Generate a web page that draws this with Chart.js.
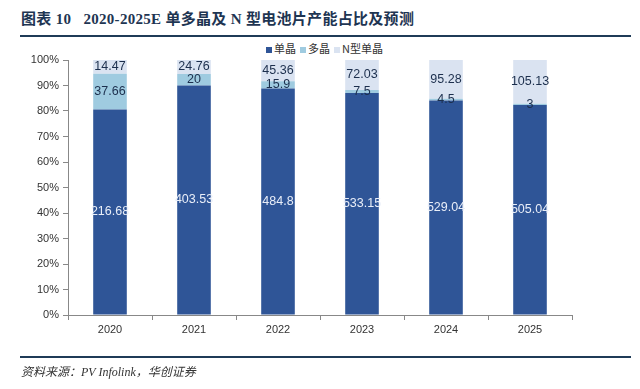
<!DOCTYPE html>
<html>
<head>
<meta charset="utf-8">
<script src="https://cdn.jsdelivr.net/npm/chart.js@4"></script>
<style>
  body { margin: 0; width: 640px; height: 389px; background: #fff; position: relative; overflow: hidden; }
  #title { position: absolute; left: 21px; top: 7px; font: bold 15px "Liberation Serif", "Noto Sans CJK SC", serif; color: #1e3552; letter-spacing: 0.3px; white-space: nowrap; }
  .rule { position: absolute; left: 20px; width: 611px; height: 2px; background: #1f3b57; }
  #legend { position: absolute; top: 40px; left: 262px; font: 11px "Noto Sans CJK SC", sans-serif; color: #333; white-space: nowrap; }
  #legend span.box { display: inline-block; width: 6px; height: 6px; margin: 0 2px 1px 4px; vertical-align: middle; }
  #source { position: absolute; left: 21px; top: 362px; font: italic 12px "Liberation Serif", "Noto Sans CJK SC", serif; color: #333; white-space: nowrap; }
  canvas { position: absolute; left: 0; top: 0; }
</style>
</head>
<body>
<div id="title">图表 10&nbsp;&nbsp;&nbsp;2020-2025E 单多晶及 N 型电池片产能占比及预测</div>
<div class="rule" style="top:35px"></div>
<div id="legend"></div>
<canvas id="chart" width="640" height="389"></canvas>
<div class="rule" style="top:356px"></div>
<div id="source">资料来源：PV Infolink，华创证券</div>
<script>
// capacity values (GW)
const years = ["2020", "2021", "2022", "2023", "2024", "2025"];
const mono = [216.68, 403.53, 484.8, 533.15, 529.04, 505.04];
const poly = [37.66, 20, 15.9, 7.5, 4.5, 3];
const nType = [14.47, 24.76, 45.36, 72.03, 95.28, 105.13];
const seriesNames = ["单晶", "多晶", "N型单晶"];
const seriesColors = ["#2f5597", "#9fcbe0", "#dae3f1"];
const labelColors = ["#e9eef8", "#1c2f4d", "#1c2f4d"];
const yTicks = [0, 10, 20, 30, 40, 50, 60, 70, 80, 90, 100];

const rawSeries = [mono, poly, nType];
const totals = years.map((y, i) => mono[i] + poly[i] + nType[i]);

// legend in html
const legend = document.getElementById("legend");
seriesNames.forEach((name, i) => {
    legend.innerHTML += `<span class="box" style="background:${seriesColors[i]}"></span>${name}`;
});

// labels in the middle of each segment
const segmentLabels = {
    id: "segmentLabels",
    afterDatasetsDraw(chart) {
        const ctx = chart.ctx;
        ctx.save();
        ctx.font = "12.5px 'Liberation Sans', Arial, sans-serif";
        ctx.textAlign = "center";
        ctx.textBaseline = "middle";
        chart.data.datasets.forEach((ds, di) => {
            const meta = chart.getDatasetMeta(di);
            meta.data.forEach((bar, i) => {
                const mid = (bar.y + bar.base) / 2;
                ctx.fillStyle = labelColors[di];
                ctx.fillText(String(rawSeries[di][i]), bar.x, mid);
            });
        });
        ctx.restore();
    }
};

new Chart(document.getElementById("chart"), {
    type: "bar",
    data: {
        labels: years,
        datasets: rawSeries.map((vals, di) => ({
            label: seriesNames[di],
            data: vals.map((v, i) => v / totals[i] * 100),
            backgroundColor: seriesColors[di],
            borderWidth: 0,
            barPercentage: 0.4,
            categoryPercentage: 1
        }))
    },
    options: {
        responsive: false,
        animation: false,
        layout: { padding: { top: 60, left: 24, right: 68, bottom: 0 } },
        plugins: { legend: { display: false }, tooltip: { enabled: false } },
        scales: {
            x: {
                stacked: true,
                afterFit: s => { s.height = 74; },
                grid: { drawOnChartArea: false, drawTicks: true, tickLength: 5, color: "#888", offset: true },
                border: { color: "#888", width: 1 },
                ticks: { color: "#333", padding: 3, font: { family: "'Liberation Sans', Arial, sans-serif", size: 11 } }
            },
            y: {
                stacked: true,
                min: 0,
                max: 100,
                afterFit: s => { s.width = 44; },
                afterBuildTicks: s => { s.ticks = yTicks.map(v => ({ value: v })); },
                grid: { drawOnChartArea: false, drawTicks: true, tickLength: 5, color: "#888" },
                border: { color: "#888", width: 1 },
                ticks: { color: "#333", padding: 4, font: { family: "'Liberation Sans', Arial, sans-serif", size: 11 }, callback: v => v + "%" }
            }
        }
    },
    plugins: [segmentLabels]
});
</script>
</body>
</html>
